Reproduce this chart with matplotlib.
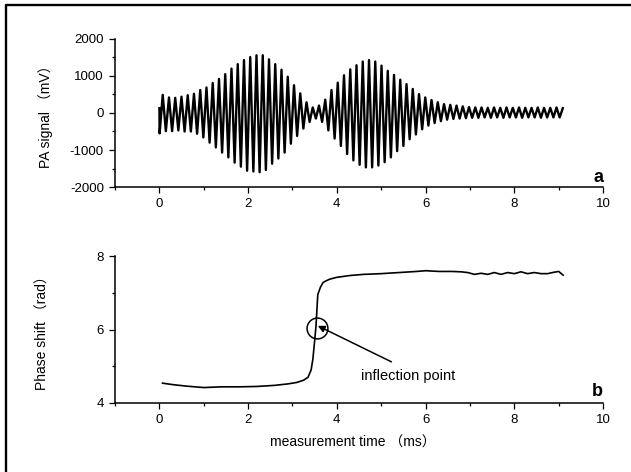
import numpy as np
import matplotlib.pyplot as plt
from matplotlib.lines import Line2D
from matplotlib.ticker import MultipleLocator

plt.rcParams['font.family'] = ['Liberation Sans', 'Noto Sans CJK SC']
plt.rcParams['axes.unicode_minus'] = False

sig_period = 0.1409      # ms, from peak spacing
sig_first_peak = 0.075   # ms
sig_start = [130, -550]  # value at t=0 and the first trough right after
sig_peaks = [490, 420, 410, 440, 480, 520, 620, 690, 810, 920,
             1050, 1200, 1320, 1430, 1510, 1560, 1560, 1450, 1320, 1170,
             980, 750, 530, 290, 150, 200, 360, 620, 820, 1020,
             1180, 1290, 1390, 1430, 1390, 1280, 1140, 1030, 900, 780,
             650, 510, 420, 350, 290, 240, 220, 200, 180, 160,
             150, 150, 140, 150, 140, 150, 140, 150, 140, 140,
             150, 140, 140, 150, 130]
sig_troughs = [-490, -490, -470, -500, -500, -560, -660, -800, -930, -1070,
               -1200, -1340, -1450, -1560, -1580, -1600, -1540, -1370, -1230, -1070,
               -830, -620, -420, -240, -150, -240, -470, -690, -890, -1110,
               -1280, -1400, -1470, -1470, -1420, -1330, -1200, -1030, -890, -710,
               -580, -440, -340, -270, -220, -180, -160, -150, -140, -130,
               -130, -120, -130, -120, -130, -120, -120, -130, -120, -120,
               -130, -120, -120, -120]

# panel b: phase shift (rad)
ph_time = [0.07, 0.3, 0.6, 1.0, 1.4, 1.8, 2.2, 2.6, 2.9, 3.1, 3.25, 3.35, 3.42,
           3.46, 3.50, 3.53, 3.57, 3.60, 3.63, 3.69, 3.75, 3.84, 4.0, 4.3, 4.6,
           5.0, 5.4, 5.8, 6.0, 6.3, 6.6, 6.8, 6.95, 7.1, 7.25, 7.4, 7.55, 7.7,
           7.85, 8.0, 8.15, 8.3, 8.45, 8.6, 8.75, 8.9, 9.0, 9.1]
ph_val = [4.54, 4.50, 4.46, 4.42, 4.44, 4.44, 4.45, 4.48, 4.52, 4.56, 4.62, 4.70, 4.90,
          5.20, 5.70, 6.10, 6.95, 7.05, 7.15, 7.28, 7.32, 7.37, 7.42, 7.47, 7.50,
          7.52, 7.55, 7.58, 7.60, 7.58, 7.58, 7.57, 7.55, 7.50, 7.53, 7.50, 7.55, 7.50,
          7.55, 7.52, 7.57, 7.52, 7.55, 7.52, 7.52, 7.56, 7.58, 7.48]

infl_t, infl_val = 3.55, 6.04

# zigzag through the read extrema
tp = sig_first_peak + sig_period * np.arange(len(sig_peaks))
t_sig = [0.0, 0.005]
y_sig = list(sig_start)
for k in range(len(sig_peaks)):
    t_sig.append(tp[k])
    y_sig.append(sig_peaks[k])
    if k < len(sig_troughs):
        t_sig.append(tp[k] + sig_period / 2)
        y_sig.append(sig_troughs[k])

fig = plt.figure(figsize=(6.31, 4.72), dpi=100)
ax1 = fig.add_axes([0.1823, 0.6038, 0.7734, 0.3136])
ax2 = fig.add_axes([0.1823, 0.1462, 0.7734, 0.3114])


def style(ax):
    for s in ['top', 'right']:
        ax.spines[s].set_visible(False)
    for s in ['left', 'bottom']:
        ax.spines[s].set_linewidth(1.1)
    ax.set_xlim(-1, 10)
    ax.xaxis.set_major_locator(MultipleLocator(2))
    ax.xaxis.set_minor_locator(MultipleLocator(1))
    ax.tick_params(which='major', direction='out', length=4, width=0.9,
                   labelsize=9.5, pad=4)
    ax.tick_params(which='minor', direction='out', length=2.2, width=0.9)


ax1.plot(t_sig, y_sig, color='black', lw=1.7)
style(ax1)
ax1.set_ylim(-2000, 2000)
ax1.yaxis.set_major_locator(MultipleLocator(1000))
ax1.yaxis.set_minor_locator(MultipleLocator(500))
ax1.set_ylabel('PA signal （mV）', fontsize=10)
ax1.yaxis.set_label_coords(-0.127, 0.5)
ax1.text(1.0, 0.035, 'a', transform=ax1.transAxes, ha='right', va='baseline',
         fontsize=13, fontweight='bold')

ax2.plot(ph_time, ph_val, color='black', lw=1.2)
style(ax2)
ax2.set_ylim(4, 8)
ax2.yaxis.set_major_locator(MultipleLocator(2))
ax2.yaxis.set_minor_locator(MultipleLocator(1))
ax2.set_ylabel('Phase shift （rad）', fontsize=10)
ax2.yaxis.set_label_coords(-0.133, 0.5)
ax2.set_xlabel('measurement time （ms）', fontsize=10)
ax2.xaxis.set_label_coords(0.488, -0.22)
ax2.text(1.0, 0.045, 'b', transform=ax2.transAxes, ha='right', va='baseline',
         fontsize=13, fontweight='bold')

ax2.plot([infl_t], [infl_val], marker='o', ms=15, mfc='none', mec='black', mew=1.1)
ax2.annotate('', xy=(infl_t + 0.02, infl_val + 0.06), xytext=(5.23, 5.12),
             arrowprops=dict(arrowstyle='-|>', color='black', lw=1.1,
                             mutation_scale=10, shrinkA=0, shrinkB=0))
ax2.text(4.55, 4.73, 'inflection point', fontsize=10.5, va='center')

# page frame around the figure
fig.add_artist(Line2D([1, 6 / 631, 6 / 631], [1 - 5 / 472, 1 - 5 / 472, 0],
                      color='black', lw=1.7, transform=fig.transFigure))

fig.savefig('out.png', dpi=100)
